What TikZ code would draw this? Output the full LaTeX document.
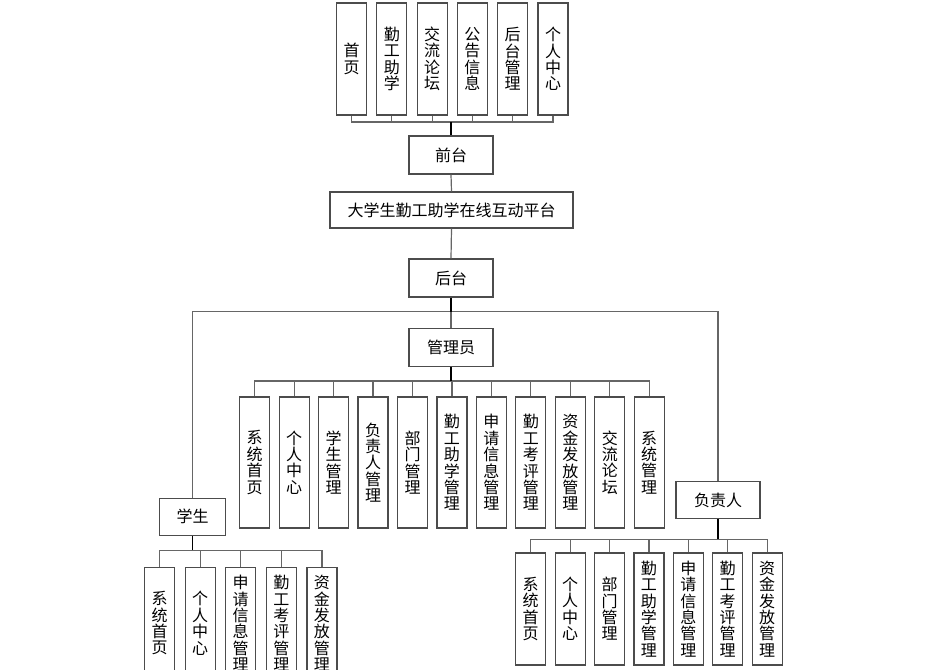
\documentclass[tikz,border=0pt]{standalone}
\usepackage{fontspec}
\setmainfont{Noto Sans CJK SC}

\begin{document}
\begin{tikzpicture}[
    x=0.75pt, y=-0.75pt,
    font=\fontsize{12}{12.3}\selectfont,
    box/.style={draw=black!70, line width=0.9pt, fill=white, inner sep=0pt, align=center},
    hbox/.style={box, minimum width=63pt, minimum height=28.5pt},
    vbox/.style={box, minimum width=22.5pt, minimum height=84pt},
    tall/.style={vbox, minimum height=98.25pt},
    link/.style={black!60, line width=0.9pt},
    stem/.style={black, line width=1.4pt},
]
\useasboundingbox (0,0) rectangle (943,670);
\clip (0,0) rectangle (943,670);

% ---- front end ----
\foreach \lbl [count=\i] in {{首\\页},{勤\\工\\助\\学},{交\\流\\论\\坛},{公\\告\\信\\息},{后\\台\\管\\理},{个\\人\\中\\心}}
    { \node[vbox] (top\i) at ({351.5+40.3*(\i-1)},59) {\lbl}; }
\node[hbox] (qt) at (451,155) {前台};
\node[box, minimum width=182.25pt, minimum height=27pt] (sys) at (451.5,210) {大学生勤工助学在线互动平台};
\node[hbox] (ht) at (451,278) {后台};

\foreach \i in {1,...,6} { \draw[link] (qt.north) -- ++(0,-13.3) -| (top\i.south); }
\draw[stem] (qt.north) -- ++(0,-13.3);
\draw[link] (qt.south) -- (sys.north);
\draw[link] (sys.south) -- (ht.north);

% ---- back end: roles ----
\node[hbox] (gly) at (451,347.5) {管理员};
\node[box, minimum width=49.5pt, minimum height=27.75pt] (stu) at (192.5,516.7) {学生};
\node[hbox, minimum height=27.75pt] (fzr) at (718,500.3) {负责人};

\draw[link] (ht.south) -- ++(0,14) -| (stu.north);
\draw[link] (ht.south) -- ++(0,14) -| (fzr.north);
\draw[link] (ht.south) -- (gly.north);
\draw[stem] (ht.south) -- ++(0,14);

% ---- admin modules ----
\foreach \lbl [count=\i] in {{系\\统\\首\\页},{个\\人\\中\\心},{学\\生\\管\\理},{负\\责\\人\\管\\理},{部\\门\\管\\理},
    {勤\\工\\助\\学\\管\\理},{申\\请\\信\\息\\管\\理},{勤\\工\\考\\评\\管\\理},{资\\金\\发\\放\\管\\理},{交\\流\\论\\坛},{系\\统\\管\\理}}
    { \node[tall] (adm\i) at ({254.7+39.45*(\i-1)},462.5) {\lbl}; }
\foreach \i in {1,...,11} { \draw[link] (gly.south) -- ++(0,14) -| (adm\i.north); }
\draw[stem] (gly.south) -- ++(0,14);

% ---- student modules ----
\foreach \lbl [count=\i] in {{系\\统\\首\\页},{个\\人\\中\\心},{申\\请\\信\\息\\管\\理},{勤\\工\\考\\评\\管\\理},{资\\金\\发\\放\\管\\理}}
    { \node[vbox] (sm\i) at ({159.5+40.6*(\i-1)},623.3) {\lbl}; }
\foreach \i in {1,...,5} { \draw[link] (stu.south) -- ++(0,14.3) -| (sm\i.north); }
\draw[stem] (stu.south) -- ++(0,14.3);

% ---- responsible person modules ----
\foreach \lbl [count=\i] in {{系\\统\\首\\页},{个\\人\\中\\心},{部\\门\\管\\理},{勤\\工\\助\\学\\管\\理},{申\\请\\信\\息\\管\\理},
    {勤\\工\\考\\评\\管\\理},{资\\金\\发\\放\\管\\理}}
    { \node[vbox] (rm\i) at ({530.7+39.4*(\i-1)},608.9) {\lbl}; }
\foreach \i in {1,...,7} { \draw[link] (fzr.south) -- ++(0,20) -| (rm\i.north); }
\draw[stem] (fzr.south) -- ++(0,20);
\end{tikzpicture}
\end{document}
